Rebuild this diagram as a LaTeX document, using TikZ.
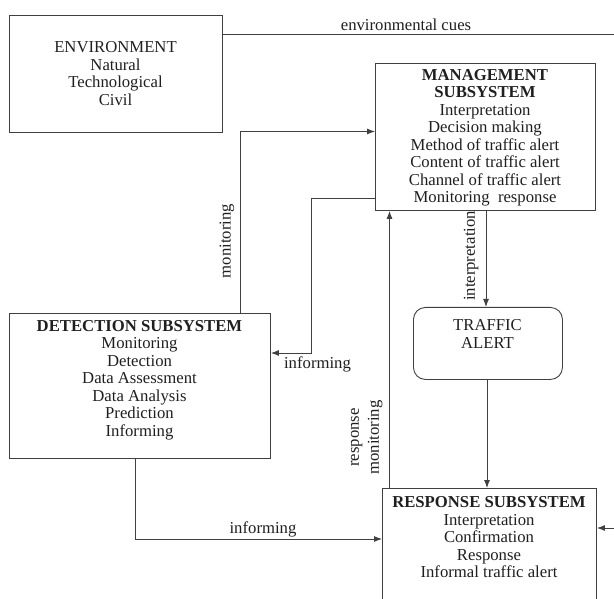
\documentclass[tikz,border=0pt]{standalone}
\usepackage{fontspec}
\setmainfont{Liberation Serif}
\usetikzlibrary{arrows.meta}
\begin{document}
\begin{tikzpicture}[x=1pt,y=-1pt,
  box/.style={draw=black!75, line width=0.9pt, anchor=north west, inner sep=0pt},
  txt/.style={align=center, font=\fontsize{16.7}{17.5}\selectfont, text=black!88, inner sep=0pt},
  lbl/.style={font=\fontsize{16.7}{20}\selectfont, inner sep=0pt, text=black!88},
  conn/.style={draw=black!75, line width=0.9pt},
  arr/.style={conn, -{Latex[length=8pt,width=6pt]}},
]
\clip (0,0) rectangle (614,599);
% boxes
\node[box, minimum width=213pt, minimum height=117pt] (env) at (9,15) {};
\node[box, minimum width=220pt, minimum height=147pt] (mgmt) at (375,63) {};
\node[box, minimum width=261pt, minimum height=145pt] (det) at (9,313) {};
\node[box, minimum width=149pt, minimum height=72pt, rounded corners=12pt] (traffic) at (413,307) {};
\node[box, minimum width=214pt, minimum height=130pt] (resp) at (382,488) {};
% box texts
\node[txt] (envtxt) at (115.5,73.5) {ENVIRONMENT\\Natural\\Technological\\Civil};
\node[txt] (mgmttxt) at (485,138) {\textbf{MANAGEMENT}\\\textbf{SUBSYSTEM}\\Interpretation\\Decision making\\Method of traffic alert\\Content of traffic alert\\Channel of traffic alert\\Monitoring~ response};
\node[txt] (dettxt) at (139.5,380) {\textbf{DETECTION SUBSYSTEM}\\Monitoring\\Detection\\Data Assessment\\Data Analysis\\Prediction\\Informing};
\node[txt] (traffictxt) at (487.5,334) {TRAFFIC\\ALERT};
\node[txt] (resptxt) at (489,537.5) {\textbf{RESPONSE SUBSYSTEM}\\Interpretation\\Confirmation\\Response\\Informal traffic alert};
% connectors
\coordinate (envR) at (625,34.5);
\draw[arr] (env.east |- envR) -- (envR) |- (resp.east |- 0,528);
\draw[arr] (det.north -| 240,0) |- (mgmt.west |- 0,131.5);
\draw[arr] (mgmt.west |- 0,198) -| (311,353) -- (det.east |- 0,353);
\draw[arr] (det.south -| 135.5,0) |- (resp.west |- 0,539);
\draw[arr] (resp.north -| 389.5,0) -- (mgmt.south -| 389.5,0);
\draw[arr] (mgmt.south -| 486,0) -- (traffic.north -| 486,0);
\draw[arr] (traffic.south -| 487,0) -- (resp.north -| 487,0);
% labels
\node[lbl] (lcues) at (406,25) {environmental cues};
\node[lbl, rotate=90] (lmon) at (227,241) {monitoring};
\node[lbl] (linf1) at (317.5,364) {informing};
\node[lbl] (linf2) at (263,529) {informing};
\node[lbl, rotate=90] (linterp) at (471,256) {interpretation};
\node[lbl, rotate=90, align=center] (lresp) at (366.7,437.5) {response\\monitoring};
\end{tikzpicture}
\end{document}
